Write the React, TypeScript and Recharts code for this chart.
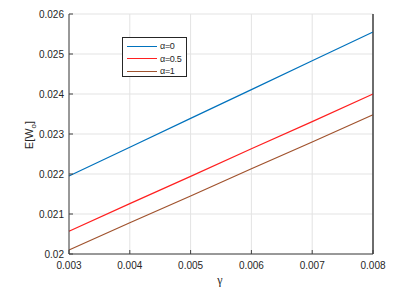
import { LineChart, Line, XAxis, YAxis, CartesianGrid, Label, ReferenceLine } from 'recharts';

const gammaValues = [0.003, 0.004, 0.005, 0.006, 0.007, 0.008];
const alpha0 = [0.02195, 0.02267, 0.02339, 0.02411, 0.02483, 0.02555];
const alpha05 = [0.02057, 0.02126, 0.02194, 0.02263, 0.02331, 0.024];
const alpha1 = [0.0201, 0.02078, 0.02145, 0.02213, 0.0228, 0.02348];
const yTicks = [0.02, 0.021, 0.022, 0.023, 0.024, 0.025, 0.026];
const seriesNames = ['α=0', 'α=0.5', 'α=1'];
const seriesColors = ['#0072bd', '#ff2020', '#a0522d'];

const data = gammaValues.map((g, i) => ({
  gamma: g,
  a0: alpha0[i],
  a05: alpha05[i],
  a1: alpha1[i],
}));

const FONT = '"Liberation Sans", Arial, sans-serif';
const AXIS = '#404040';

const YLabel = () => (
  <text
    x={33}
    y={135}
    transform="rotate(-90, 33, 135)"
    textAnchor="middle"
    fontSize={11}
    fontFamily={FONT}
    fill="#262626"
  >
    E[W
    <tspan fontSize={8} dy={3}>o</tspan>
    <tspan dy={-3}>]</tspan>
  </text>
);

export default function App() {
  const keys = ['a0', 'a05', 'a1'];
  return (
    <div style={{ position: 'absolute', left: 0, top: 0, width: 404, height: 291, background: '#fff' }}>
      <LineChart width={404} height={291} data={data} margin={{ top: 14, right: 30, left: 0, bottom: 0 }}>
        <CartesianGrid stroke="#e3e3e3" strokeWidth={1} />
        <XAxis
          dataKey="gamma"
          type="number"
          domain={[0.003, 0.008]}
          ticks={gammaValues}
          height={37}
          tickSize={-4}
          tickMargin={12}
          stroke={AXIS}
          tick={{ fontSize: 10, fontFamily: FONT, fill: '#262626' }}
          tickFormatter={(v) => v.toFixed(3)}
        >
          <Label
            content={() => (
              <text x={220} y={284} textAnchor="middle" fontSize={12} fontFamily='"Liberation Serif", serif' fill="#262626">
                γ
              </text>
            )}
          />
        </XAxis>
        <XAxis
          xAxisId="top"
          orientation="top"
          dataKey="gamma"
          type="number"
          domain={[0.003, 0.008]}
          ticks={gammaValues}
          height={0}
          tickSize={-4}
          tick={false}
          stroke={AXIS}
        />
        <YAxis
          type="number"
          domain={[0.02, 0.026]}
          ticks={yTicks}
          width={69}
          tickSize={-4}
          tickMargin={9}
          stroke={AXIS}
          tick={{ fontSize: 10, fontFamily: FONT, fill: '#262626' }}
          tickFormatter={(v) => String(+v.toFixed(3))}
        >
          <Label content={() => <YLabel />} />
        </YAxis>
        <YAxis
          yAxisId="right"
          orientation="right"
          type="number"
          domain={[0.02, 0.026]}
          ticks={yTicks}
          width={1}
          tickSize={-4}
          tick={false}
          stroke={AXIS}
        />
        <ReferenceLine x={0.008} stroke={AXIS} />
        {keys.map((k, i) => (
          <Line
            key={k}
            dataKey={k}
            type="linear"
            stroke={seriesColors[i]}
            strokeWidth={1.2}
            dot={false}
            isAnimationActive={false}
          />
        ))}
      </LineChart>
      <div
        style={{
          position: 'absolute',
          left: 122,
          top: 37,
          width: 65,
          height: 40,
          border: '1px solid #262626',
          background: '#fff',
          boxSizing: 'border-box',
          fontFamily: FONT,
          fontSize: 9,
          color: '#262626',
        }}
      >
        {seriesNames.map((name, i) => (
          <div key={name} style={{ position: 'absolute', left: 0, top: 2 + i * 12.5, height: 12, display: 'flex', alignItems: 'center', whiteSpace: 'nowrap' }}>
            <div style={{ marginLeft: 4, width: 30, height: 1, background: seriesColors[i] }} />
            <span style={{ marginLeft: 3, letterSpacing: -0.3 }}>{name}</span>
          </div>
        ))}
      </div>
    </div>
  );
}
